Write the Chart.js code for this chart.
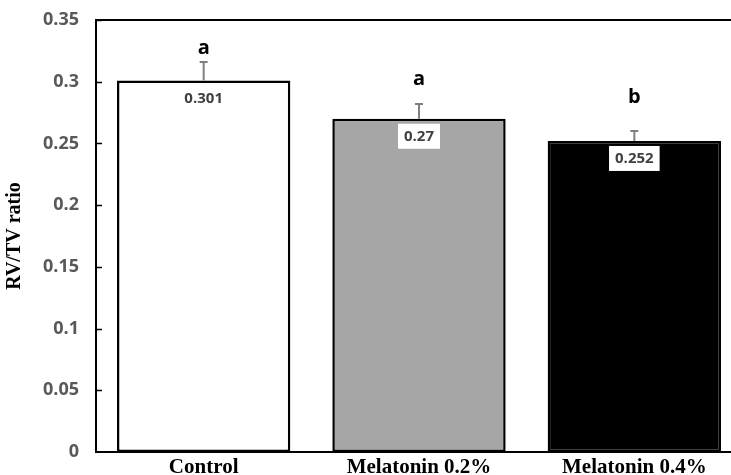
<!DOCTYPE html>
<html>
<head>
<meta charset="utf-8">
<script src="https://cdn.jsdelivr.net/npm/chart.js@4.4.1/dist/chart.umd.min.js"></script>
<style>
  html, body { margin: 0; padding: 0; background: #fff; overflow: hidden; }
  #wrap { width: 745px; height: 475px; }
</style>
</head>
<body>
<div id="wrap"><canvas id="bar-chart" width="745" height="475"></canvas></div>
<script>
// values
const groups = ["Control", "Melatonin 0.2%", "Melatonin 0.4%"];
const ratio = [0.301, 0.27, 0.252];
const sdev = [0.015, 0.012, 0.008];
const letters = ["a", "a", "b"];
const fills = ["#ffffff", "#a6a6a6", "#000000"];
const yTicks = ["0", "0.05", "0.1", "0.15", "0.2", "0.25", "0.3", "0.35"];

const sans = "'Open Sans', 'Noto Sans', sans-serif";
const serif = "'Liberation Serif', 'DejaVu Serif', serif";

// error bars, letters, value boxes, inside ticks, top frame line
const extras = {
    id: "extras",
    afterDatasetsDraw(chart, args, opts) {
        const ctx = chart.ctx;
        const y = chart.scales.y;
        const area = chart.chartArea;
        const meta = chart.getDatasetMeta(0);

        ctx.save();
        ctx.strokeStyle = "#000";
        ctx.lineWidth = 2;
        ctx.beginPath();
        ctx.moveTo(area.left, area.top);
        ctx.lineTo(area.right, area.top);
        ctx.lineTo(area.right, area.bottom);
        ctx.stroke();

        ctx.lineWidth = 1.5;
        for (let i = 1; i < yTicks.length; i++) {
            const py = Math.round(y.getPixelForValue(i * 0.05)) + 0.5;
            ctx.beginPath();
            ctx.moveTo(area.left, py);
            ctx.lineTo(area.left + 6, py);
            ctx.stroke();
        }

        meta.data.forEach((bar, i) => {
            const top = y.getPixelForValue(ratio[i]);
            const hi = y.getPixelForValue(ratio[i] + sdev[i]);
            ctx.strokeStyle = "#7f7f7f";
            ctx.lineWidth = 2;
            ctx.beginPath();
            ctx.moveTo(bar.x, top);
            ctx.lineTo(bar.x, hi);
            ctx.moveTo(bar.x - 4, hi);
            ctx.lineTo(bar.x + 4, hi);
            ctx.stroke();

            ctx.font = "bold 20px " + sans;
            ctx.fillStyle = "#000";
            ctx.textAlign = "center";
            ctx.textBaseline = "alphabetic";
            ctx.fillText(letters[i], bar.x, y.getPixelForValue(opts.letterAt[i]));

            const txt = String(ratio[i]);
            ctx.font = "bold 15px " + sans;
            const w = ctx.measureText(txt).width + 12;
            const boxTop = top + 5;
            ctx.fillStyle = "#fff";
            ctx.fillRect(bar.x - w / 2, boxTop, w, 25);
            ctx.fillStyle = "#404040";
            ctx.textBaseline = "middle";
            ctx.fillText(txt, bar.x, boxTop + 13);
        });
        ctx.restore();
    }
};

new Chart(document.getElementById("bar-chart"), {
    type: "bar",
    data: {
        labels: groups,
        datasets: [{
            data: ratio,
            backgroundColor: fills,
            borderColor: "#000",
            borderWidth: 2.5,
            borderSkipped: false,
            categoryPercentage: 1,
            barPercentage: 0.805
        }]
    },
    options: {
        responsive: false,
        animation: false,
        layout: { padding: { top: 20, right: 3, left: 0, bottom: 0 } },
        plugins: {
            legend: { display: false },
            tooltip: { enabled: false },
            extras: { letterAt: [0.3225, 0.2973, 0.2827] }
        },
        scales: {
            x: {
                grid: { display: false, drawTicks: false },
                border: { color: "#000", width: 2 },
                ticks: {
                    color: "#000",
                    padding: 3,
                    font: { family: serif, size: 21, weight: "bold" }
                },
                afterFit(s) { s.height = 23; }
            },
            y: {
                min: 0,
                max: 0.35,
                grid: { display: false, drawTicks: false },
                border: { color: "#000", width: 2 },
                ticks: {
                    stepSize: 0.05,
                    color: "#595959",
                    padding: 17,
                    font: { family: sans, size: 18, weight: "bold" },
                    callback: (v) => yTicks[Math.round(v / 0.05)]
                },
                title: {
                    display: true,
                    text: "RV/TV ratio",
                    color: "#000",
                    padding: { top: 3, bottom: 0 },
                    font: { family: serif, size: 20, weight: "bold" }
                },
                afterFit(s) {
                    s.width = 96;
                    s.paddingTop = 0;
                    s.paddingBottom = 0;
                }
            }
        }
    },
    plugins: [extras]
});
</script>
</body>
</html>
